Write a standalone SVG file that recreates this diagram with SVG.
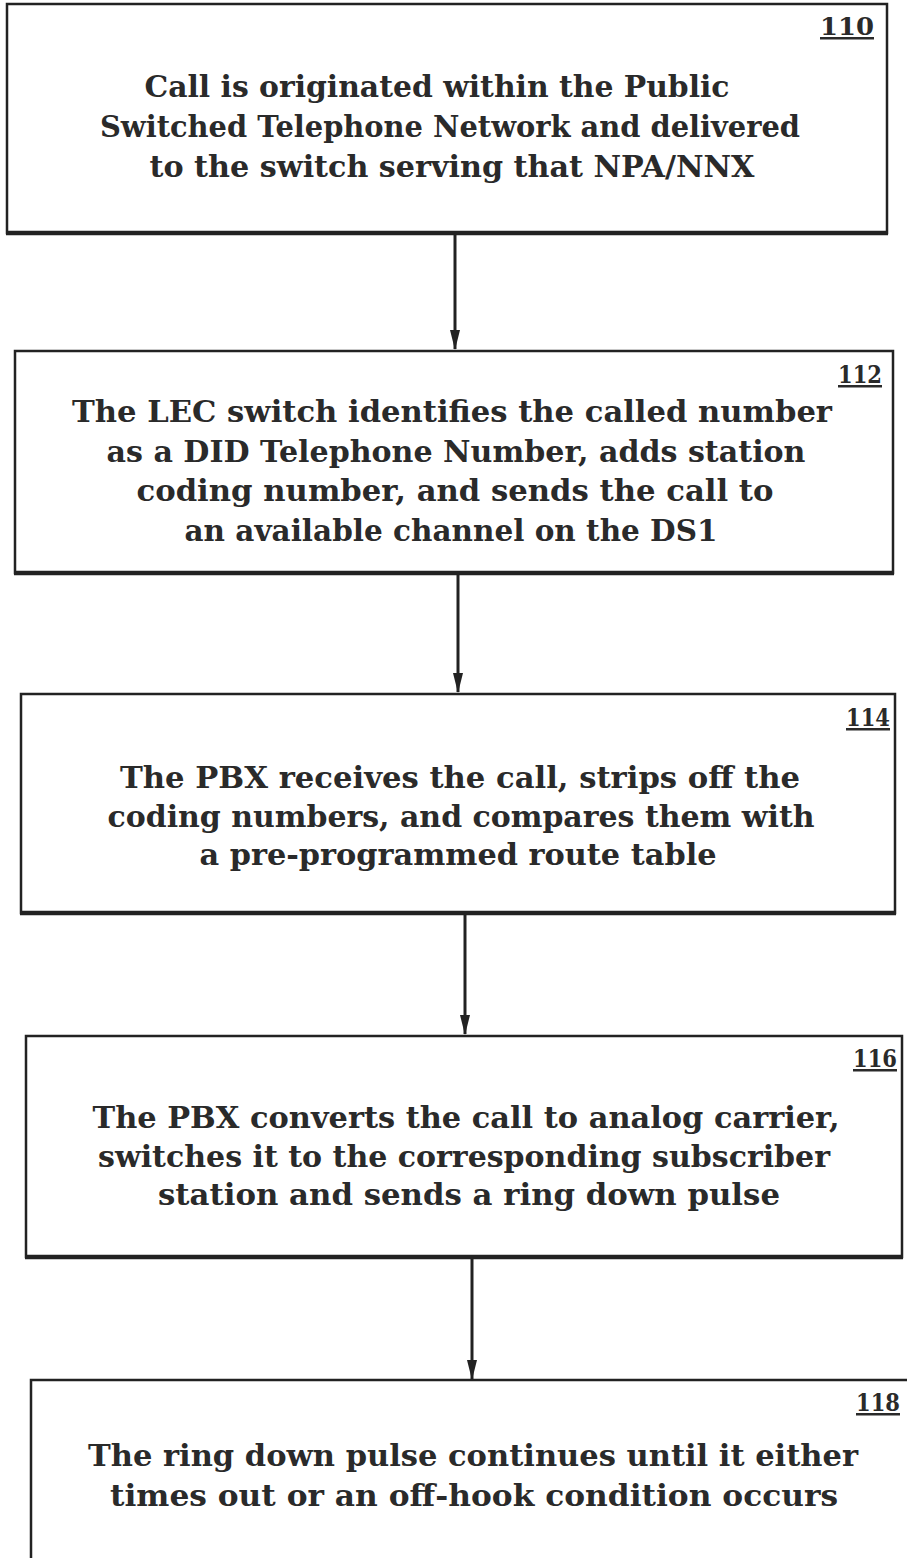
<svg xmlns="http://www.w3.org/2000/svg" width="907" height="1558" viewBox="0 0 907 1558">
<style>
.box{fill:#fff;stroke:#222;stroke-width:2.5}
.bot{stroke:#222;stroke-width:4.5}
.t{font-family:"DejaVu Serif","Liberation Serif",serif;font-weight:bold;font-size:29px;fill:#2a2a2a;text-anchor:middle}
.ref{font-family:"DejaVu Serif","Liberation Serif",serif;font-weight:bold;font-size:25px;fill:#2a2a2a;text-anchor:middle;text-decoration:underline}
.conn{stroke:#222;stroke-width:3;fill:none}
</style>
<defs>
<marker id="ah" markerWidth="20" markerHeight="10" refX="19" refY="5" orient="auto" markerUnits="userSpaceOnUse" viewBox="0 0 20 10">
<path d="M0,0 L20,5 L0,10 Z" fill="#222"/>
</marker>
</defs>
<rect width="907" height="1558" fill="#fff"/>
<g id="connectors">
<line class="conn" x1="455" y1="234" x2="455" y2="349" marker-end="url(#ah)"/>
<line class="conn" x1="458" y1="574" x2="458" y2="692" marker-end="url(#ah)"/>
<line class="conn" x1="465" y1="914" x2="465" y2="1034" marker-end="url(#ah)"/>
<line class="conn" x1="472" y1="1258" x2="472" y2="1379" marker-end="url(#ah)"/>
</g>
<g id="n110">
<rect class="box" x="7" y="4" width="880" height="229"/>
<line class="bot" x1="6" y1="233" x2="888" y2="233"/>
<text class="ref" x="847" y="35" textLength="54" lengthAdjust="spacingAndGlyphs">110</text>
<text class="t" x="437" y="97" textLength="585" lengthAdjust="spacingAndGlyphs">Call is originated within the Public</text>
<text class="t" x="450" y="137" textLength="700" lengthAdjust="spacingAndGlyphs">Switched Telephone Network and delivered</text>
<text class="t" x="452" y="177" textLength="605" lengthAdjust="spacingAndGlyphs">to the switch serving that NPA/NNX</text>
</g>
<g id="n112">
<rect class="box" x="15" y="351" width="878" height="222"/>
<line class="bot" x1="14" y1="573" x2="894" y2="573"/>
<text class="ref" x="860" y="383" textLength="44" lengthAdjust="spacingAndGlyphs">112</text>
<text class="t" x="452" y="422" textLength="760" lengthAdjust="spacingAndGlyphs">The LEC switch identifies the called number</text>
<text class="t" x="456" y="462" textLength="699" lengthAdjust="spacingAndGlyphs">as a DID Telephone Number, adds station</text>
<text class="t" x="455" y="501" textLength="637" lengthAdjust="spacingAndGlyphs">coding number, and sends the call to</text>
<text class="t" x="451" y="541" textLength="533" lengthAdjust="spacingAndGlyphs">an available channel on the DS1</text>
</g>
<g id="n114">
<rect class="box" x="21" y="694" width="874" height="219"/>
<line class="bot" x1="20" y1="913" x2="896" y2="913"/>
<text class="ref" x="868" y="726" textLength="44" lengthAdjust="spacingAndGlyphs">114</text>
<text class="t" x="460" y="788" textLength="680" lengthAdjust="spacingAndGlyphs">The PBX receives the call, strips off the</text>
<text class="t" x="461" y="827" textLength="707" lengthAdjust="spacingAndGlyphs">coding numbers, and compares them with</text>
<text class="t" x="458" y="865" textLength="517" lengthAdjust="spacingAndGlyphs">a pre-programmed route table</text>
</g>
<g id="n116">
<rect class="box" x="26" y="1036" width="876" height="221"/>
<line class="bot" x1="25" y1="1257" x2="903" y2="1257"/>
<text class="ref" x="875" y="1067" textLength="44" lengthAdjust="spacingAndGlyphs">116</text>
<text class="t" x="466" y="1128" textLength="747" lengthAdjust="spacingAndGlyphs">The PBX converts the call to analog carrier,</text>
<text class="t" x="464" y="1167" textLength="732" lengthAdjust="spacingAndGlyphs">switches it to the corresponding subscriber</text>
<text class="t" x="469" y="1205" textLength="622" lengthAdjust="spacingAndGlyphs">station and sends a ring down pulse</text>
</g>
<g id="n118">
<path class="box" d="M31,1560 L31,1380 L907,1380"/>
<text class="ref" x="878" y="1411" textLength="44" lengthAdjust="spacingAndGlyphs">118</text>
<text class="t" x="473" y="1466" textLength="770" lengthAdjust="spacingAndGlyphs">The ring down pulse continues until it either</text>
<text class="t" x="474" y="1506" textLength="728" lengthAdjust="spacingAndGlyphs">times out or an off-hook condition occurs</text>
</g>
</svg>
